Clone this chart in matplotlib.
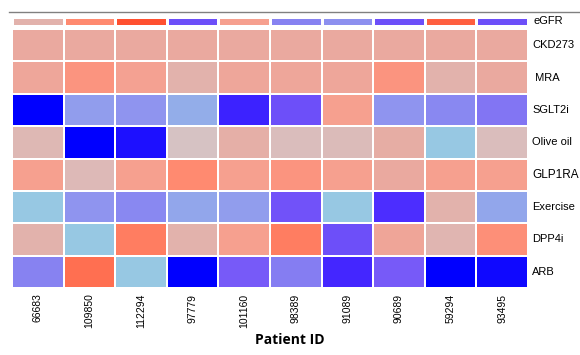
import matplotlib
matplotlib.use("Agg")
import matplotlib.pyplot as plt
import numpy as np
from matplotlib.colors import LinearSegmentedColormap
from matplotlib.lines import Line2D

# Patient IDs (columns) and treatment rows
patients = ["66683", "109850", "112294", "97779", "101160",
            "98389", "91089", "90689", "59294", "93495"]
rows = ["CKD273", " MRA", "SGLT2i", "Olive oil", "GLP1RA",
        "Exercise", "DPP4i", "ARB"]

# eGFR annotation strip (scaled -1..1)
egfr = [0.15, 0.6, 1.0, -0.6, 0.4, -0.4, -0.35, -0.6, 0.9, -0.6]

ckd273 = [0.25, 0.25, 0.25, 0.25, 0.25, 0.25, 0.25, 0.25, 0.25, 0.25]
mra = [0.3, 0.5, 0.38, 0.15, 0.3, 0.3, 0.3, 0.5, 0.15, 0.25]
sglt2i = [-1.0, -0.3, -0.33, -0.25, -0.8, -0.6, 0.4, -0.33, -0.38, -0.45]
olive_oil = [0.1, -1.0, -0.9, 0.0, 0.18, 0.05, 0.07, 0.2, -0.15, 0.05]
glp1ra = [0.4, 0.08, 0.4, 0.6, 0.4, 0.5, 0.4, 0.25, 0.4, 0.4]
exercise = [-0.15, -0.33, -0.38, -0.27, -0.3, -0.58, -0.15, -0.75, 0.15, -0.27]
dpp4i = [0.15, -0.15, 0.7, 0.15, 0.4, 0.7, -0.6, 0.32, 0.12, 0.55]
arb = [-0.4, 0.8, -0.15, -1.0, -0.55, -0.42, -0.78, -0.55, -1.0, -0.95]

cmap = LinearSegmentedColormap.from_list("kd", [
    (0.0, "#0000ff"),
    (0.12, "#4a2aff"),
    (0.22, "#7658f8"),
    (0.34, "#9098ee"),
    (0.43, "#98cce2"),
    (0.5, "#d6c2c4"),
    (0.6, "#e6ada4"),
    (0.7, "#f6a090"),
    (0.8, "#ff8a70"),
    (0.9, "#ff7052"),
    (1.0, "#ff5030"),
])

mat = np.array([ckd273, mra, sglt2i, olive_oil, glp1ra, exercise, dpp4i, arb])

fig = plt.figure(figsize=(5.8, 3.55), dpi=100)
plt.rcParams["font.family"] = ["Liberation Sans", "DejaVu Sans"]

W, H = 580, 355
x0, x1 = 12, 528

# annotation strip
ax_top = fig.add_axes([x0 / W, 1 - 26 / H, (x1 - x0) / W, 9 / H])
ax_top.pcolormesh(np.array([egfr]), cmap=cmap, vmin=-1, vmax=1,
                  edgecolors="white", linewidth=0.8)
ax_top.set_xlim(0, len(patients))
ax_top.set_ylim(0, 1)
ax_top.axis("off")
ax_top.text(1.01, 0.5, "eGFR", transform=ax_top.transAxes, fontsize=8,
            va="center", ha="left")

# main heatmap
ax = fig.add_axes([x0 / W, 1 - 288 / H, (x1 - x0) / W, (288 - 29) / H])
ax.pcolormesh(mat, cmap=cmap, vmin=-1, vmax=1,
              edgecolors="white", linewidth=1.3)
ax.set_xlim(0, len(patients))
ax.set_ylim(len(rows), 0)
for s in ax.spines.values():
    s.set_visible(False)
ax.set_xticks(np.arange(len(patients)) + 0.5)
ax.set_xticklabels(patients, rotation=90, fontsize=7.5)
ax.tick_params(axis="x", length=0, pad=4)
ax.set_yticks([])
for i, name in enumerate(rows):
    fs = 8.5 if name == "GLP1RA" else 8
    ax.text(1.008, i + 0.5, name, transform=ax.get_yaxis_transform(),
            fontsize=fs, va="center", ha="left", clip_on=False)

# thin grey rule above the strip
fig.add_artist(Line2D([9 / W, 1.0], [1 - 12 / H, 1 - 12 / H],
                      color="#808080", linewidth=1.0))

fig.text(0.5, 1 - 340 / H, "Patient ID", ha="center", va="center",
         fontsize=10, fontweight="bold", family=["Open Sans", "DejaVu Sans"])

fig.savefig("out.png", dpi=100)
